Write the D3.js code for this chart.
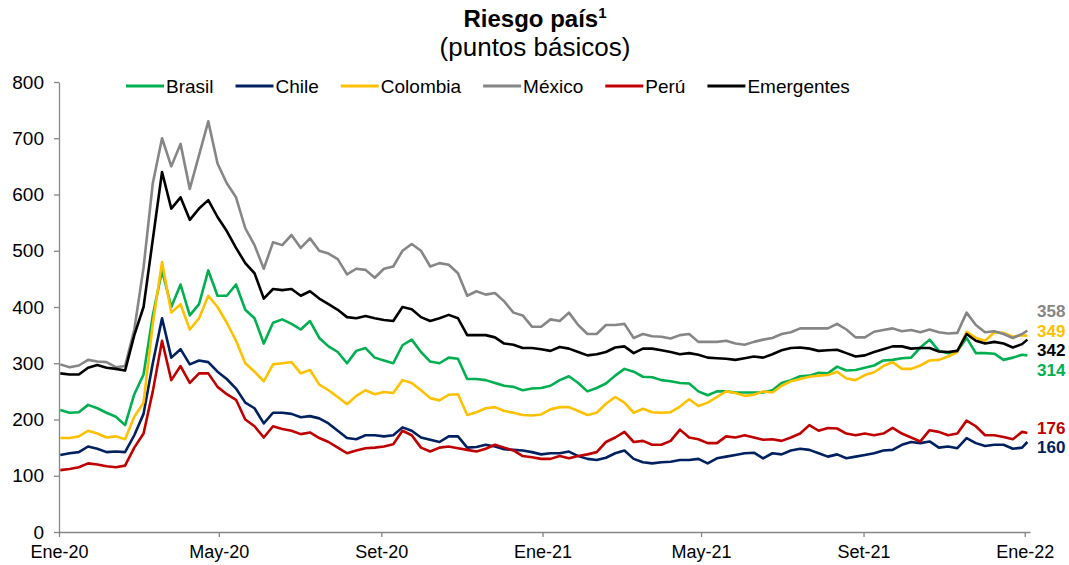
<!DOCTYPE html>
<html>
<head>
<meta charset="utf-8">
<script src="https://cdn.jsdelivr.net/npm/d3@7"></script>
<style>
  body { margin: 0; background: #fff; }
  svg { font-family: Arial, "Liberation Sans", sans-serif; }
</style>
</head>
<body>
<svg width="1069" height="565"></svg>
<script>
var series = ['Brasil', 'Chile', 'Colombia', 'México', 'Perú', 'Emergentes'];
var colors = ['#00B050', '#002060', '#FFC000', '#868686', '#C00000', '#000000'];

// weekly readings from 2 Jan 2020, last one 3 Jan 2022
var brasil = [217,212,213,226,220,212,205,190,245,280,385,
  465,400,440,385,405,465,420,420,440,395,
  380,335,372,378,370,360,375,345,330,320,
  300,322,327,310,305,300,332,342,320,303,300,
  310,308,272,272,270,265,260,258,252,255,256,
  260,270,277,265,250,256,264,278,290,285,
  276,275,270,268,265,264,250,243,250,250,248,
  248,248,248,252,265,270,277,278,283,282,
  294,287,288,292,296,305,306,309,310,328,342,
  322,318,322,345,318,318,317,306,310,315,
  314];
var chile = [137,140,142,152,148,142,143,142,172,210,300,
  380,310,325,298,305,302,285,272,255,230,
  220,193,212,212,210,204,206,202,193,180,
  167,165,172,172,170,172,186,180,168,164,160,
  170,170,150,151,155,152,147,146,145,142,138,
  140,140,143,135,130,128,132,140,145,130,
  124,122,124,125,128,128,130,122,131,134,137,
  140,141,131,140,138,145,148,146,140,134,
  138,131,134,137,140,145,146,155,160,158,161,
  150,152,149,167,158,153,155,155,148,150,
  160];
var colombia = [167,167,170,180,175,168,170,165,205,230,370,
  480,390,405,360,380,420,400,372,340,300,
  285,268,298,300,302,282,288,262,252,240,
  227,242,252,245,249,247,270,265,252,238,234,
  244,245,208,213,220,222,215,212,208,207,209,
  218,222,222,215,208,212,228,240,230,212,
  219,213,212,213,223,236,224,230,240,250,247,
  242,244,250,248,260,268,272,276,278,279,
  285,273,270,279,284,295,302,290,290,296,305,
  306,312,320,356,345,340,355,354,347,350,
  349];
var mexico = [298,293,296,306,303,302,293,295,360,470,620,
  700,650,690,610,670,730,655,620,595,540,
  510,468,515,510,528,505,522,500,495,485,
  458,468,466,452,468,472,500,512,500,472,478,
  475,460,420,428,422,425,410,390,385,365,365,
  378,375,390,368,352,352,368,368,370,345,
  352,348,347,344,350,352,338,338,338,340,335,
  333,338,342,345,352,355,362,362,362,362,
  370,360,346,346,356,359,362,357,359,355,360,
  355,353,354,390,368,355,357,352,345,352,
  358];
var peru = [110,112,115,122,120,117,115,118,150,175,250,
  340,270,295,265,282,282,258,245,235,200,
  188,168,188,183,180,174,177,167,160,150,
  140,145,149,150,152,156,180,172,150,143,150,
  152,149,146,143,148,155,150,145,135,133,130,
  130,135,131,135,138,142,160,168,178,160,
  162,155,155,162,182,168,165,158,158,170,168,
  172,168,164,165,162,168,175,190,180,185,
  184,175,172,175,172,175,185,175,168,161,181,
  178,172,175,198,188,172,172,169,165,178,
  176];
var emergentes = [282,280,280,292,297,292,290,287,350,400,520,
  640,575,595,555,575,590,560,535,505,478,
  460,415,432,430,432,420,428,415,405,395,
  382,380,384,380,377,375,400,396,382,375,380,
  386,380,350,350,350,346,335,333,327,327,325,
  322,329,326,320,314,316,320,328,330,318,
  326,326,323,320,316,318,315,310,309,308,306,
  309,312,310,316,323,327,328,326,322,323,
  324,318,312,314,320,325,330,330,326,327,327,
  321,320,322,352,340,335,338,335,328,334,
  342];
var values = [brasil, chile, colombia, mexico, peru, emergentes];

var tickLabels = ['Ene-20', 'May-20', 'Set-20', 'Ene-21', 'May-21', 'Set-21', 'Ene-22'];
var yTicks = [0, 100, 200, 300, 400, 500, 600, 700, 800];

var dates = [];
for (var i = 0; i < brasil.length - 1; i++) dates.push(d3.timeDay.offset(new Date(2020, 0, 2), 7 * i));
dates.push(new Date(2022, 0, 3));

var svg = d3.select('svg');

var x = d3.scaleTime()
  .domain([new Date(2020, 0, 1), new Date(2022, 0, 5)])
  .range([59, 1030]);
var y = d3.scaleLinear().domain([0, 800]).range([532, 82]);

// axes
var tickDates = tickLabels.map(function(d, i){ return d3.timeMonth.offset(new Date(2020, 0, 1), 4 * i); });

var yAxis = svg.append('g').attr('transform', 'translate(59,0)')
  .call(d3.axisLeft(y).tickValues(yTicks).tickSize(5).tickSizeOuter(0).tickPadding(10));
var xAxis = svg.append('g').attr('transform', 'translate(0,532)')
  .call(d3.axisBottom(x).tickValues(tickDates).tickSize(5).tickSizeOuter(0).tickPadding(8)
    .tickFormat(function(d, i){ return tickLabels[i]; }));

[yAxis, xAxis].forEach(function(a){
  a.selectAll('path, line').attr('stroke', '#868686').attr('stroke-width', 1.3);
  a.selectAll('text').attr('fill', '#000')
    .attr('font-family', 'Arial, "Liberation Sans", sans-serif');
});
yAxis.selectAll('text').attr('font-size', 19);
xAxis.selectAll('text').attr('font-size', 18);

// lines
var line = d3.line()
  .x(function(d, i){ return x(dates[i]); })
  .y(function(d){ return y(d); });

values.forEach(function(v, k){
  svg.append('path')
    .attr('d', line(v))
    .attr('fill', 'none')
    .attr('stroke', colors[k])
    .attr('stroke-width', 2.6)
    .attr('stroke-linejoin', 'round');
});

// end labels, spread apart so they do not overlap
var gap = 19.5;
var ends = values.map(function(v, k){
  return {k: k, v: v[v.length - 1], y: y(v[v.length - 1])};
});
ends.sort(function(a, b){ return a.y - b.y; });
for (var it = 0; it < 200; it++) {
  for (var j = 1; j < ends.length; j++) {
    var d = ends[j].y - ends[j - 1].y;
    if (d < gap) {
      ends[j - 1].y -= (gap - d) / 2;
      ends[j].y += (gap - d) / 2;
    }
  }
}
ends.forEach(function(e){
  svg.append('text')
    .attr('x', 1037).attr('y', e.y).attr('dy', '0.36em')
    .attr('font-size', 17).attr('font-weight', 'bold')
    .attr('fill', colors[e.k])
    .text(e.v);
});

// legend
var lx = 126;
series.forEach(function(s, k){
  svg.append('line')
    .attr('x1', lx).attr('x2', lx + 38).attr('y1', 86).attr('y2', 86)
    .attr('stroke', colors[k]).attr('stroke-width', 3);
  var t = svg.append('text')
    .attr('x', lx + 40).attr('y', 86).attr('dy', '0.36em')
    .attr('font-size', 19).attr('fill', '#000')
    .text(s);
  lx += 40 + t.node().getComputedTextLength() + 22;
});

// title
var title = svg.append('text')
  .attr('x', 535).attr('y', 27).attr('text-anchor', 'middle')
  .attr('font-size', 24).attr('font-weight', 'bold');
title.append('tspan').text('Riesgo país');
title.append('tspan').attr('font-size', 15).attr('dy', -9).text('1');

svg.append('text')
  .attr('x', 535).attr('y', 56).attr('text-anchor', 'middle')
  .attr('font-size', 26)
  .text('(puntos básicos)');
</script>
</body>
</html>
